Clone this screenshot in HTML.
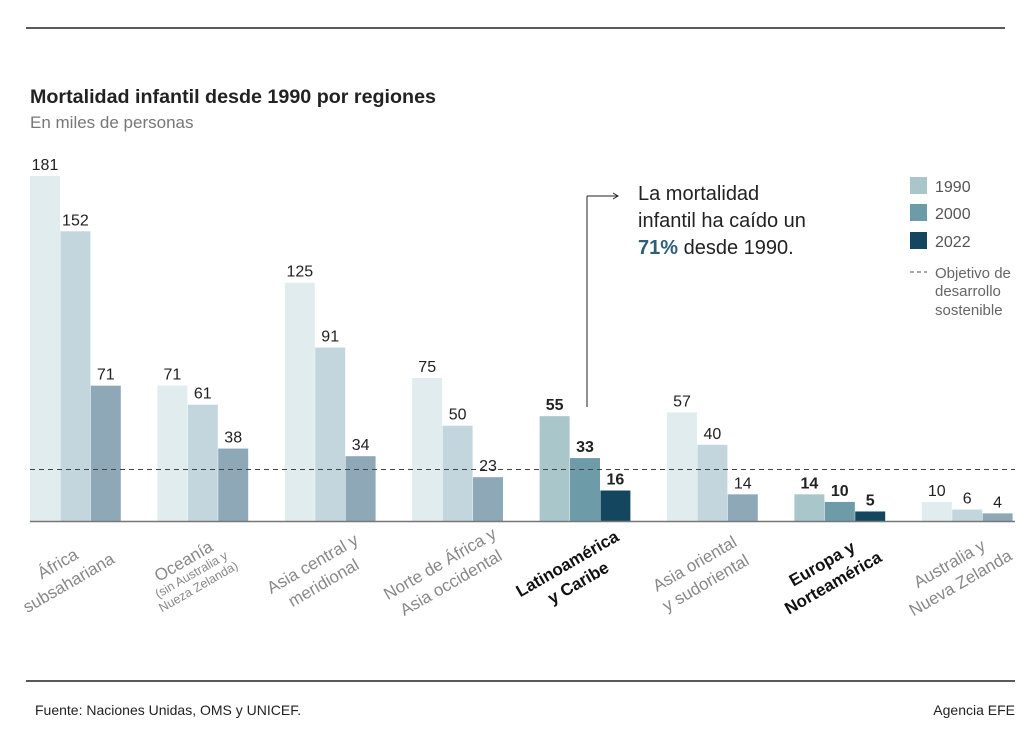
<!DOCTYPE html>
<html><head><meta charset="utf-8"><style>
body{margin:0;background:#fff;width:1035px;height:730px;overflow:hidden;font-family:"Liberation Sans",Arial,sans-serif;}
svg{display:block}
</style></head><body>
<svg id="chart" width="1035" height="730">
<line x1="26" y1="28" x2="1005" y2="28" stroke="#222" stroke-width="1.5"/>
<text x="30" y="103" font-size="19" font-weight="bold" fill="#222" textLength="406" lengthAdjust="spacingAndGlyphs">Mortalidad infantil desde 1990 por regiones</text>
<text x="30" y="128" font-size="17" fill="#777">En miles de personas</text>
<g id="bars"></g>
<g id="labels"></g>
<line x1="587" y1="407" x2="587" y2="196" stroke="#222" stroke-width="1"/>
<line x1="587" y1="196" x2="617" y2="196" stroke="#222" stroke-width="1"/>
<path d="M613,193 L618,196 L613,199" fill="none" stroke="#222"/>
<text font-size="20" fill="#222"><tspan x="638" y="200">La mortalidad</tspan><tspan x="638" y="227">infantil ha caído un</tspan><tspan x="638" y="254"><tspan font-weight="bold" fill="#2e5f7a">71%</tspan> desde 1990.</tspan></text>
<g>
<rect x="910" y="177" width="17" height="17" fill="#a9c6cb"/>
<text x="935" y="192" font-size="16" fill="#555">1990</text>
<rect x="910" y="204" width="17" height="17" fill="#6d9ba8"/>
<text x="935" y="219" font-size="16" fill="#555">2000</text>
<rect x="910" y="232" width="17" height="17" fill="#144660"/>
<text x="935" y="247" font-size="16" fill="#555">2022</text>
<line x1="910" y1="272" x2="927" y2="272" stroke="#555" stroke-dasharray="4,3"/>
<text font-size="15" fill="#666"><tspan x="935" y="278">Objetivo de</tspan><tspan x="935" y="296">desarrollo</tspan><tspan x="935" y="315">sostenible</tspan></text>
</g>
<line x1="26" y1="681" x2="1015" y2="681" stroke="#222" stroke-width="1.5"/>
<text x="35" y="715" font-size="14" fill="#222">Fuente: Naciones Unidas, OMS y UNICEF.</text>
<text x="1015" y="715" font-size="14" fill="#222" text-anchor="end">Agencia EFE</text>
</svg>
<script>
const categories=[["África","subsahariana"],["Oceanía","(sin Australia y","Nueza Zelanda)"],["Asia central y","meridional"],["Norte de África y","Asia occidental"],["Latinoamérica","y Caribe"],["Asia oriental","y sudoriental"],["Europa y","Norteamérica"],["Australia y","Nueva Zelanda"]];
const highlighted=[false,false,false,false,true,false,true,false];
const v1990=[181,71,125,75,55,57,14,10];
const v2000=[152,61,91,50,33,40,10,6];
const v2022=[71,38,34,23,16,14,5,4];
const targetValue=27;
const NS="http://www.w3.org/2000/svg";
const baseY=521, scale=345/181, x0=30, step=127.4, bw=30;
const y=v=>baseY-v*scale;
const gx=i=>x0+i*step;
const normalCols=["#e0eced","#c3d6de","#8fa8b8"];
const hiCols=["#a9c6cb","#6d9ba8","#144660"];
const series=[v1990,v2000,v2022];
const names=["1990","2000","2022"];
const bars=document.getElementById('bars');
function mk(tag,attrs,parent){const e=document.createElementNS(NS,tag);for(const k in attrs)e.setAttribute(k,attrs[k]);parent.appendChild(e);return e;}
categories.forEach((c,i)=>{
  series.forEach((s,j)=>{
    const x=gx(i)+j*(bw+0.4);
    const r=mk('rect',{x:x,y:y(s[i]),width:bw,height:s[i]*scale,fill:(highlighted[i]?hiCols:normalCols)[j]},bars);
    
    
    const t=mk('text',{x:x+bw/2,y:y(s[i])-6,'font-size':16,'text-anchor':'middle',fill:'#222','font-weight':highlighted[i]?'bold':'normal'},bars);
    t.textContent=s[i];
    
    
  });
});
const tl=mk('line',{x1:30,x2:1015,y1:y(targetValue),y2:y(targetValue),stroke:'#444','stroke-dasharray':'5,4','stroke-width':1},bars);


const ax=mk('line',{x1:30,x2:1015,y1:baseY+0.5,y2:baseY+0.5,stroke:'#777','stroke-width':1.5},bars);


const labels=document.getElementById('labels');
categories.forEach((c,i)=>{
  const cx=gx(i)+45-12, cy=573;
  const g=mk('g',{transform:`translate(${cx},${cy}) rotate(-30)`},labels);
  
  
  const small=c.length===3;
  const lh=small?14:22;
  c.forEach((line,k)=>{
    const fs=(small&&k>0)?12.5:17;
    const t=mk('text',{x:0,y:(k-(c.length-1)/2)*lh+6,'text-anchor':'middle','font-size':fs,fill:highlighted[i]?'#111':'#888','font-weight':highlighted[i]?'bold':'normal'},g);
    t.textContent=line;
  });
});
</script>
</body></html>
